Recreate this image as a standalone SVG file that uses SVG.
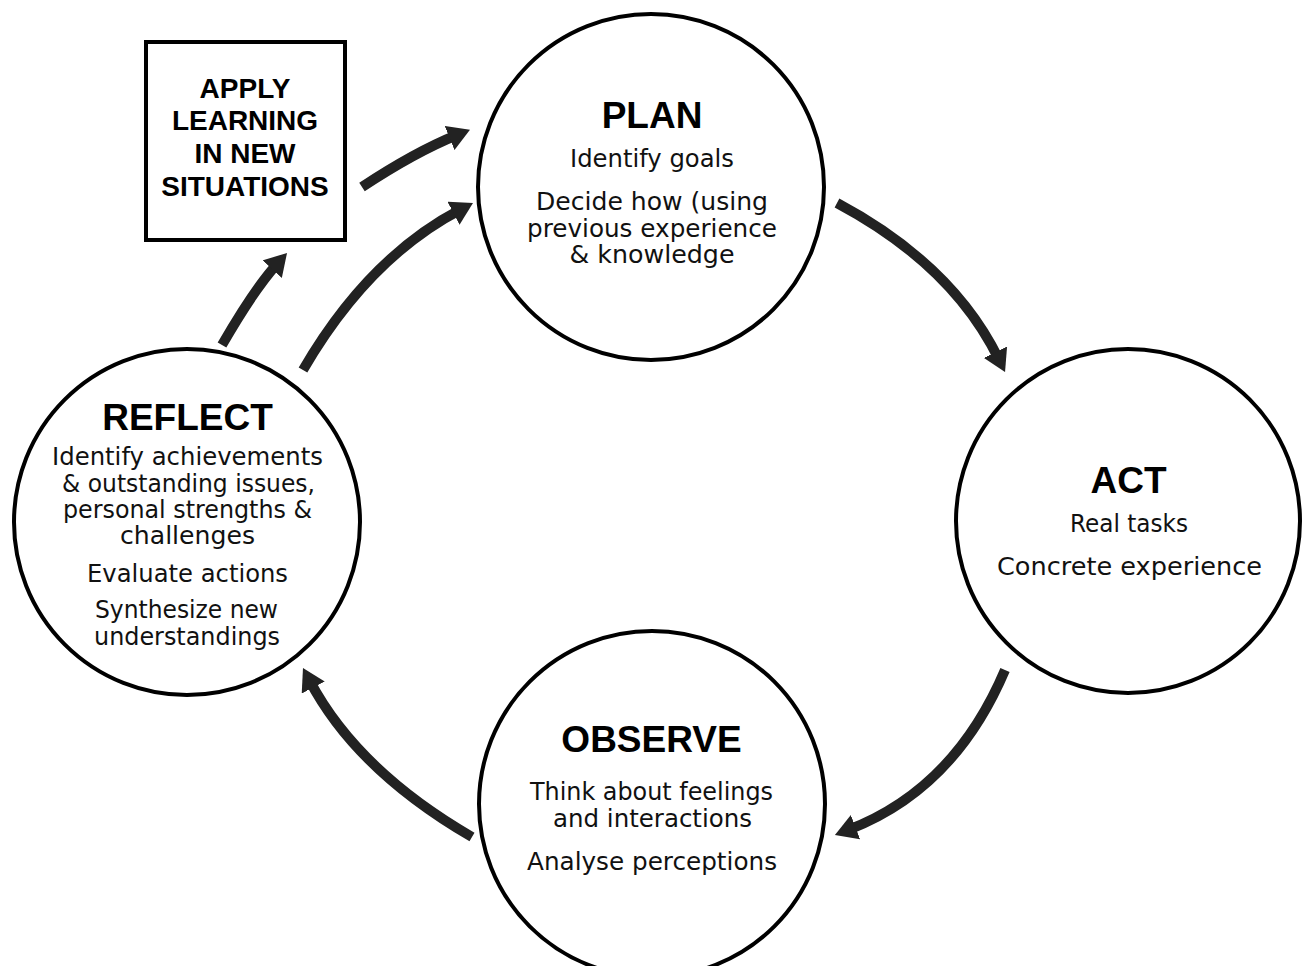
<svg xmlns="http://www.w3.org/2000/svg" width="1302" height="966" viewBox="0 0 1302 966">
<style>
.node{fill:#fff;stroke:#000;stroke-width:4}
.h{font-family:"Liberation Sans",Arial,sans-serif;font-weight:bold;font-size:37px;fill:#000;text-anchor:middle}
.b{font-family:"Liberation Sans",Arial,sans-serif;font-weight:bold;font-size:28px;fill:#000;text-anchor:middle}
.t{font-family:"DejaVu Sans","Liberation Sans",sans-serif;font-size:24px;fill:#111;text-anchor:middle}
.arr{fill:none;stroke:#222;stroke-width:10;marker-end:url(#ah)}
</style>
<defs>
<marker id="ah" markerUnits="userSpaceOnUse" viewBox="0 0 22 26" markerWidth="22" markerHeight="26" refX="8" refY="13" orient="auto">
<path d="M0,0 L22,13 L0,26 Z" fill="#222"/>
</marker>
</defs>
<rect width="1302" height="966" fill="#fff"/>
<g id="connectors">
<path class="arr" d="M362,187 Q415,152 457,135"/>
<path class="arr" d="M303,370 Q368,258 460.6,209.5"/>
<path class="arr" d="M222,345 Q254.7,288.4 277.6,263.3"/>
<path class="arr" d="M837,203 Q952.7,264.7 998.9,359.4"/>
<path class="arr" d="M1005,670 Q954.4,789.4 848,830"/>
<path class="arr" d="M472,837 Q356.7,770.1 309.5,680.4"/>
</g>
<g id="apply">
<rect class="node" x="146" y="42" width="199" height="198"/>
<text class="b" x="245" y="98">APPLY</text>
<text class="b" x="245" y="130">LEARNING</text>
<text class="b" x="245" y="163">IN NEW</text>
<text class="b" x="245" y="196">SITUATIONS</text>
</g>
<g id="plan">
<circle class="node" cx="651" cy="187" r="173"/>
<text class="h" x="652" y="128">PLAN</text>
<text class="t" x="652" y="167" textLength="164" lengthAdjust="spacingAndGlyphs">Identify goals</text>
<text class="t" x="652" y="210" textLength="232" lengthAdjust="spacingAndGlyphs">Decide how (using</text>
<text class="t" x="652" y="237" textLength="250" lengthAdjust="spacingAndGlyphs">previous experience</text>
<text class="t" x="652" y="263" textLength="165" lengthAdjust="spacingAndGlyphs">&amp; knowledge</text>
</g>
<g id="act">
<circle class="node" cx="1128" cy="521" r="172"/>
<text class="h" x="1128.5" y="493">ACT</text>
<text class="t" x="1129" y="532" textLength="118" lengthAdjust="spacingAndGlyphs">Real tasks</text>
<text class="t" x="1129.5" y="575" textLength="265" lengthAdjust="spacingAndGlyphs">Concrete experience</text>
</g>
<g id="observe">
<circle class="node" cx="652" cy="804" r="173"/>
<text class="h" x="651.5" y="752">OBSERVE</text>
<text class="t" x="651.5" y="800" textLength="243" lengthAdjust="spacingAndGlyphs">Think about feelings</text>
<text class="t" x="652.5" y="827" textLength="199" lengthAdjust="spacingAndGlyphs">and interactions</text>
<text class="t" x="652" y="870" textLength="250" lengthAdjust="spacingAndGlyphs">Analyse perceptions</text>
</g>
<g id="reflect">
<circle class="node" cx="187" cy="522" r="173"/>
<text class="h" x="187.5" y="430">REFLECT</text>
<text class="t" x="187.5" y="465" textLength="271" lengthAdjust="spacingAndGlyphs">Identify achievements</text>
<text class="t" x="188.5" y="491.5" textLength="253" lengthAdjust="spacingAndGlyphs">&amp; outstanding issues,</text>
<text class="t" x="187.5" y="517.5" textLength="249" lengthAdjust="spacingAndGlyphs">personal strengths &amp;</text>
<text class="t" x="187.5" y="544" textLength="135" lengthAdjust="spacingAndGlyphs">challenges</text>
<text class="t" x="187.5" y="582" textLength="201" lengthAdjust="spacingAndGlyphs">Evaluate actions</text>
<text class="t" x="186.5" y="618" textLength="183" lengthAdjust="spacingAndGlyphs">Synthesize new</text>
<text class="t" x="187" y="645" textLength="186" lengthAdjust="spacingAndGlyphs">understandings</text>
</g>
</svg>
